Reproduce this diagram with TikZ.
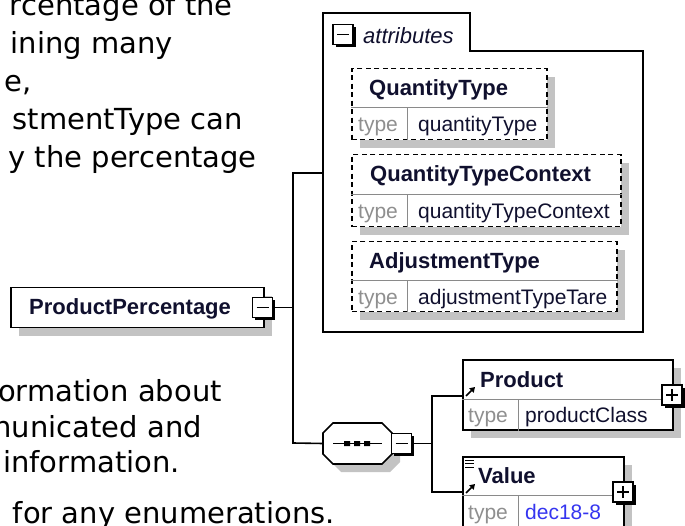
\documentclass[tikz,border=0pt]{standalone}
\usepackage{fontspec}
\setmainfont{Liberation Sans}
\newfontfamily\bodyfont{DejaVu Sans}
\usetikzlibrary{shadows,arrows.meta}
\definecolor{shadowgray}{HTML}{C3C3C3}
\definecolor{lblcol}{HTML}{10102E}
\definecolor{typegray}{HTML}{8F8F8F}
\definecolor{valblue}{HTML}{3535F0}
\definecolor{sepgray}{HTML}{8A8A8A}
\tikzset{
  bodytxt/.style={font=\bodyfont\fontsize{29}{35}\selectfont, inner sep=0pt, anchor=base east},
  elshadow/.style={drop shadow={shadow xshift=8pt, shadow yshift=-8pt, fill=shadowgray, opacity=1}},
  elbox/.style={draw=black, line width=1.5pt, fill=white, inner sep=0pt, anchor=north west, elshadow},
  attbox/.style={elbox, dash pattern=on 5pt off 3.5pt},
  namelbl/.style={font=\fontsize{22}{26}\selectfont\bfseries, text=lblcol, inner sep=0pt, anchor=base west},
  typelbl/.style={font=\fontsize{21}{25}\selectfont, text=typegray, inner sep=0pt, anchor=base west},
  typeval/.style={font=\fontsize{21}{25}\selectfont, text=lblcol, inner sep=0pt, anchor=base west},
  sepline/.style={draw=sepgray, line width=1pt},
  iconbox/.style={draw=black, fill=white, line width=1.4pt, minimum size=20pt, inner sep=0pt,
    drop shadow={shadow xshift=2.5pt, shadow yshift=-2.5pt, fill=black, opacity=1}},
  minusicon/.style={iconbox, path picture={\draw[black, line width=1.4pt]
    ([xshift=4pt]path picture bounding box.west) -- ([xshift=-4pt]path picture bounding box.east);}},
  plusicon/.style={iconbox, path picture={\draw[black, line width=1.4pt]
    ([xshift=4pt]path picture bounding box.west) -- ([xshift=-4pt]path picture bounding box.east)
    ([yshift=-4pt]path picture bounding box.north) -- ([yshift=4pt]path picture bounding box.south);}},
  conn/.style={draw=black, line width=1.6pt},
  refarrow/.style={line width=1.6pt, -{Triangle[length=5pt,width=6pt]}},
}
\begin{document}
\begin{tikzpicture}[x=1pt,y=-1pt]
\useasboundingbox (0,0) rectangle (685,526);
\clip (0,0) rectangle (685,526);
\fill[white] (0,0) rectangle (685,526);

% background document text
\node[bodytxt] (t1) at (233,16) {rcentage of the};
\node[bodytxt] (t2) at (173,54) {ining many};
\node[bodytxt] (t3) at (32,92) {e,};
\node[bodytxt] (t4) at (243,130) {stmentType can};
\node[bodytxt] (t5) at (257,168) {y the percentage};
\node[bodytxt] (b1) at (222,401) {ormation about};
\node[bodytxt] (b2) at (202,437) {nunicated and};
\node[bodytxt] (b3) at (180,472) {information.};
\node[bodytxt] (b4) at (335,523) {for any enumerations.};

% attributes group box
\draw[conn] (323,51) -- (323,13) -- (470,13) -- (470,51) -- (643,51) -- (643,332) -- (323,332) -- cycle;
\coordinate (attrL) at (323,173);
\node[minusicon] (attricon) at (343,34.5) {};
\node[font=\fontsize{22}{26}\selectfont\itshape, text=lblcol, inner sep=0pt, anchor=base west] (attrlbl) at (363,44) {attributes};

% QuantityType
\node[attbox, minimum width=195pt, minimum height=71pt] (qt) at (351,68) {};
\draw[sepline] ([yshift=-40pt]qt.north west) -- ([yshift=-40pt]qt.north east);
\draw[sepline] ([xshift=56pt,yshift=-40pt]qt.north west) -- ([xshift=56pt]qt.south west);
\node[namelbl] (qtname) at (369,96) {QuantityType};
\node[typelbl] (qttype) at (358,132) {type};
\node[typeval] (qtval) at (418,132) {quantityType};

% QuantityTypeContext
\node[attbox, minimum width=269pt, minimum height=72pt] (qtc) at (351,154) {};
\draw[sepline] ([yshift=-41pt]qtc.north west) -- ([yshift=-41pt]qtc.north east);
\draw[sepline] ([xshift=56pt,yshift=-41pt]qtc.north west) -- ([xshift=56pt]qtc.south west);
\node[namelbl] (qtcname) at (370,182) {QuantityTypeContext};
\node[typelbl] (qtctype) at (358,219) {type};
\node[typeval] (qtcval) at (418,219) {quantityTypeContext};

% AdjustmentType
\node[attbox, minimum width=265pt, minimum height=70pt] (at) at (351,241) {};
\draw[sepline] ([yshift=-40pt]at.north west) -- ([yshift=-40pt]at.north east);
\draw[sepline] ([xshift=56pt,yshift=-40pt]at.north west) -- ([xshift=56pt]at.south west);
\node[namelbl] (atname) at (369,269) {AdjustmentType};
\node[typelbl] (attype) at (358,305) {type};
\node[typeval] (atval) at (418,305) {adjustmentTypeTare};

% ProductPercentage element
\node[elbox, minimum width=253pt, minimum height=40pt] (pp) at (10,287) {};
\node[namelbl] (ppname) at (29,315) {ProductPercentage};
\coordinate (busTop) at (293,173);
\coordinate (busBot) at (293,443);
\coordinate (seqL) at (323,443.5);
\node[minusicon] (ppicon) at (262.5,307.5) {};
\draw[conn] (ppicon.east) -- (ppicon.east -| busTop);
\draw[conn] (attrL) -- (busTop) -- (busBot) -- (seqL);

% sequence compositor
\fill[shadowgray] (341,431) -- (390,431) -- (400,441) -- (400,462) -- (390,472) -- (341,472) -- (331,462) -- (331,441) -- cycle;
\draw[conn, fill=white] (333,423) -- (382,423) -- (392,433) -- (392,454) -- (382,464) -- (333,464) -- (323,454) -- (323,433) -- cycle;
\draw[line width=1.5pt] (333,443.5) -- (382,443.5);
\fill[black] (344,441) rectangle (350,446) (354,441) rectangle (360,446) (364,441) rectangle (370,446);
\node[minusicon] (seqicon) at (401.5,443.5) {};
\coordinate (brTop) at (432,396);
\coordinate (brBot) at (432,492);
\coordinate (prodIn) at (462,396);
\coordinate (valIn) at (462,492);
\draw[conn] (seqicon.east) -- (seqicon.east -| brTop);
\draw[conn] (prodIn) -- (brTop) -- (brBot) -- (valIn);

% Product element
\node[elbox, minimum width=210pt, minimum height=70pt] (prod) at (462,359) {};
\draw[sepline] ([yshift=-40pt]prod.north west) -- ([yshift=-40pt]prod.north east);
\draw[sepline] ([xshift=56pt,yshift=-40pt]prod.north west) -- ([xshift=56pt]prod.south west);
\draw[refarrow] (466,396) -- (475,387);
\node[namelbl] (prodname) at (480,387) {Product};
\node[typelbl] (prodtype) at (468,422) {type};
\node[typeval] (prodval) at (525,422) {productClass};
\node[plusicon] (prodicon) at (672,395) {};

% Value element
\node[elbox, minimum width=161pt, minimum height=85pt] (val) at (462,456) {};
\draw[sepline] ([yshift=-39pt]val.north west) -- ([yshift=-39pt]val.north east);
\draw[sepline] ([xshift=56pt,yshift=-39pt]val.north west) -- ([xshift=56pt]val.south west);
\draw[line width=0.9pt] (465,460) -- (474,460) (465,463.5) -- (474,463.5) (465,467) -- (474,467);
\draw[refarrow] (466,493) -- (475,484);
\node[namelbl] (valname) at (478,483) {Value};
\node[typelbl] (valtype) at (468,519) {type};
\node[typeval, text=valblue] (valval) at (525,519) {dec18-8};
\node[plusicon] (valicon) at (623,492) {};
\end{tikzpicture}
\end{document}
